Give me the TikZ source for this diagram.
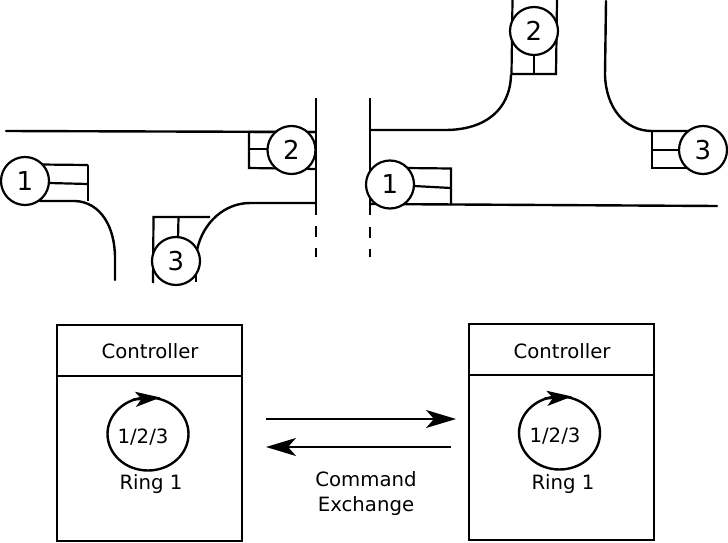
\documentclass[tikz,border=0pt]{standalone}
\usepackage{fontspec}
\setmainfont{DejaVu Sans}
\usetikzlibrary{arrows.meta,shapes.geometric}
\tikzset{
  road/.style={line width=2.4pt,line cap=round},
  stopbar/.style={line width=2.2pt},
  wall/.style={line width=2.8pt},
  ctrl/.style={draw,line width=2.8pt,outer sep=0pt,minimum width=185pt,inner sep=0pt,anchor=north west},
  phase/.style={circle,draw,fill=white,line width=2.2pt,minimum size=48pt,inner sep=0pt,font=\fontsize{26}{26}\selectfont},
  lab/.style={inner sep=0pt,font=\fontsize{19.7}{25}\selectfont,align=center},
  ringc/.style={ellipse,draw,line width=2.4pt,minimum width=81pt,minimum height=73pt,inner sep=0pt},
  bigarrow/.style={line width=2pt,-{Stealth[length=30pt,width=18pt,inset=8pt]}},
  ringarrow/.style={line width=2.4pt,-{Stealth[length=25pt,width=15pt,inset=6pt]}},
}
\begin{document}
\begin{tikzpicture}[x=1pt,y=-1pt]
\useasboundingbox (0,0) rectangle (728,543);
% walls and kerbs, left junction
\coordinate (lt) at (6,131); \coordinate (ltr) at (316,132);
\coordinate (v1a) at (316,98); \coordinate (v1b) at (316,215);
\coordinate (v2a) at (370,98); \coordinate (v2b) at (370,215);
\draw[wall] (v1a) -- (v1b);
\draw[wall] (v2a) -- (v2b);
\draw[stopbar] (316,226) -- (316,237);
\draw[stopbar] (316,248) -- (316,257);
\draw[stopbar] (370,227) -- (370,238);
\draw[stopbar] (370,249) -- (370,257);
\draw[road] (lt) -- (ltr);
\draw[road] (316,203) -- (250,203) .. controls (225,203) and (203,222) .. (197,250);
\draw[road] (40,201) -- (75,201) .. controls (100,202) and (115,226) .. (115,258) -- (115,280);
% right junction
\draw[road] (370,130) -- (445,130) .. controls (485,130) and (510,110) .. (511,75);
\draw[road] (606,1) -- (605,75) .. controls (606,108) and (625,131) .. (652,131) -- (717,131);
\draw[road] (370,204) -- (717,206);
% detector boxes
\draw[stopbar] (88,165) -- (40,164.5);
\draw[stopbar] (88,165) -- (88,201);
\draw[stopbar] (49,183) -- (88,184);
\draw[stopbar] (316,132) -- (249,132) -- (249,168) -- (316,169);
\draw[stopbar] (249,149) -- (270,149);
\draw[stopbar] (153,283) -- (153.5,217) -- (210,217);
\draw[stopbar] (178.5,217) -- (178,240);
\draw[stopbar] (196,270) -- (196,282);
\draw[stopbar] (512.5,0) -- (511.5,74) -- (556,74) -- (557,0);
\draw[stopbar] (534,55) -- (534,74);
\draw[stopbar] (652,131) -- (652,168) -- (690,168);
\draw[stopbar] (652,150) -- (680,150);
\draw[stopbar] (405,168) -- (451,168.5) -- (451,205);
\draw[stopbar] (414,186) -- (451,188);
% phases
\node[phase] (a1) at (25,181) {1};
\node[phase] (a2) at (291.5,150) {2};
\node[phase] (a3) at (176,261) {3};
\node[phase] (b1) at (390,184.5) {1};
\node[phase] (b2) at (534,31) {2};
\node[phase] (b3) at (703,150) {3};
% controllers
\node[ctrl,minimum height=216pt] (c1) at (57,325) {};
\node[ctrl,minimum height=216pt] (c2) at (469,324) {};
\draw[wall] (57,376) coordinate (d1a) -- (242,376) coordinate (d1b);
\draw[wall] (469,375) coordinate (d2a) -- (654,375) coordinate (d2b);
\node[lab] (t1) at (150,351) {Controller};
\node[lab] (t2) at (562,351) {Controller};
\node[ringc] (r1) at (148,434) {};
\node[ringc] (r2) at (559.5,433) {};
\coordinate (ra1) at (133,399.5); \coordinate (rb1) at (160.5,397.5);
\coordinate (ra2) at (544.5,398.5); \coordinate (rb2) at (572,396.5);
\draw[ringarrow] (ra1) -- (rb1);
\draw[ringarrow] (ra2) -- (rb2);
\node[lab] (s1) at (143,437.5) {1/2/3};
\node[lab] (s2) at (555,436.5) {1/2/3};
\node[lab] (g1) at (151,484) {Ring 1};
\node[lab] (g2) at (563,484) {Ring 1};
\coordinate (x1) at (266,419); \coordinate (x2) at (456,419);
\coordinate (y1) at (451,447); \coordinate (y2) at (266,447);
\draw[bigarrow] (x1) -- (x2);
\draw[bigarrow] (y1) -- (y2);
\node[lab] (cmd) at (366,493.5) {Command\\Exchange};
\end{tikzpicture}
\end{document}
